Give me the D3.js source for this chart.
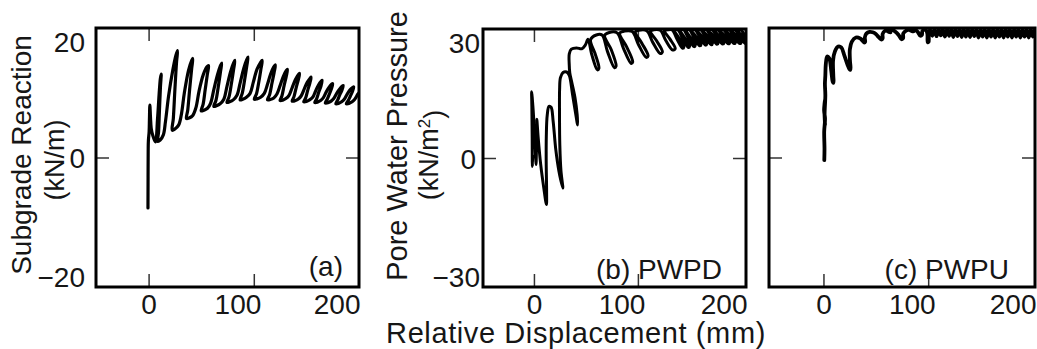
<!DOCTYPE html>
<html>
<head>
<meta charset="utf-8">
<script src="https://cdn.jsdelivr.net/npm/d3@7"></script>
<style>
  body { margin: 0; background: #fff; }
  svg { display: block; }
  text { font-family: "Liberation Sans", Arial, Helvetica, sans-serif; fill: #161616; }
</style>
</head>
<body>
<svg id="chart" width="1037" height="349"></svg>
<script>
// Tick values shared by the three panels
const xTicks = [0, 100, 200];
const yTicksReaction = [-20, 0, 20];
const yTicksPressure = [-30, 0, 30];

// (a) subgrade reaction (kN/m) against relative displacement (mm)
const subgradeReaction = [
  [-0.6,-7.8],[-0.5,-3],[-0.4,1],[-0.2,2.6],[0.5,4],[0.8,6],[1.2,8.1],[1.8,6.2],[2.5,4.5],[4,3.4],[6.5,2.4],
  [8.5,6],[10,9.8],[11.2,12.2],[12,12.9],
  [11.3,11],[10.3,7.2],[9.5,4],[8.8,2.5],[11,2.7],[14,3.5],[16,5.5],
  [19,9.5],[23,13.5],[26,15.8],[27.5,16.5],
  [26.6,14.8],[25,10.5],[23.5,6],[22.5,4.2],[25,4.4],[28.5,5],[31,6.5],
  [34,10],[38,13.5],[41,15],[42,15.3],
  [41,13.8],[39,10.5],[37.2,7.3],[36,6],[38.5,6.1],[42,6.5],[45,7.7],
  [48,10.3],[52,12.8],[55.5,14],[57,14.2],
  [55.8,12.8],[53.8,10.5],[51.8,8.2],[50,7.2],[52.5,7.3],[56,7.6],[59,8.4],
  [62,10.5],[65.5,12.8],[68.3,14.2],[69.5,14.6],
  [68.3,13.2],[66.3,11],[64,8.8],[62,7.9],[64.5,8],[68,8.3],[71.5,9],
  [74.5,11],[78,13.3],[80.8,14.6],[82,15],
  [80.8,13.6],[78.8,11.5],[76.5,9.4],[74.5,8.5],[77,8.6],[80.5,8.9],[84,9.6],
  [87,11.5],[90.5,13.8],[93.3,15.1],[94.5,15.5],
  [93.3,14.1],[91.3,12],[89,9.9],[87,8.9],[89.5,9],[93,9.3],[96.5,9.9],
  [99.5,11.6],[103,13.6],[106.5,14.7],[108,15],
  [106.8,13.7],[104.8,11.7],[102.5,9.8],[100.5,9],[103,9.05],[106.5,9.3],[110,9.9],
  [113,11.3],[116,12.9],[119,14],[120.5,14.3],
  [119.3,13.1],[117.3,11.5],[115,9.7],[113,8.9],[115.5,8.95],[119,9.2],[122,9.8],
  [125,11.1],[128,12.5],[130.8,13.4],[132,13.6],
  [130.8,12.5],[128.8,11.1],[126.7,9.5],[125,8.8],[127.5,8.85],[130.5,9.1],[133.5,9.6],
  [136.5,10.8],[139.5,12],[142.3,12.8],[143.5,13],
  [142.3,12],[140.3,10.8],[138.2,9.4],[136.5,8.7],[139,8.75],[142,9],[145,9.5],
  [148,10.6],[150.8,11.6],[153.4,12.2],[154.5,12.4],
  [153.3,11.5],[151.3,10.4],[149.3,9.2],[147.5,8.6],[150,8.65],[153,8.9],[156,9.3],
  [158.8,10.3],[161.5,11.2],[164,11.75],[165,11.9],
  [163.8,11],[161.8,10.1],[159.8,9.1],[158,8.5],[160.5,8.55],[163.5,8.8],[166,9.2],
  [168.8,10.1],[171.3,10.8],[173.9,11.3],[175,11.4],
  [173.8,10.6],[171.8,9.8],[169.8,9],[168,8.4],[170.5,8.45],[173.5,8.7],[176,9.1],
  [178.8,9.9],[181.3,10.5],[183.9,11],[185,11.1],
  [183.8,10.4],[181.8,9.7],[179.8,8.9],[178,8.3],[180.5,8.35],[183.5,8.6],[186,9],
  [188.8,9.8],[191.3,10.4],[193.9,10.8],[195,10.9],
  [193.8,10.2],[191.8,9.5],[189.8,8.8],[188,8.3],[190.5,8.35],[193.5,8.6],[196,9],
  [199,9.8],[202,10.4]
];

// (b) pore water pressure, downstream side (kN/m2)
const poreWaterPwpd = [
  [-1.2,0.5],[-1.5,-2],[-1.7,5],[-2,12],[-2.2,15.4],[-1,12],[0.5,6],[1.5,1],[2,-1.5],[2.5,3],[3,7.5],[2.8,9],
  [4,5],[6.5,-1.5],[9.5,-7],[12,-10.8],[12.2,-8],[11.8,-1],[11.9,5],[12.8,10],[14.5,12],[16.5,11.8],
  [18.5,8.5],[21,2],[24,-3],[27.8,-7],[26,-3],[24.9,3],[24.6,10],[24.7,16],[25.5,18.7],[28,19.9],
  [31.5,20],[34,19.2],[37,15],[40,10.5],[42,7.7],[41.6,10],[39.5,14],[36.5,17.5],[34.5,19.8],
  [33.9,22],[34,24.2],[36,25.3],[41,25.6],[46,25.4],[49.5,26.3],
  [52,27.6],[55.7,24],[61,20.5],[62.5,20.85],[58.7,24.35],[54.5,27.5],[60,28.6],
  [65.5,28.6],[70.7,24.8],[77.5,21],[79,21.35],[74.5,25.1],[68,28.5],[72.5,29.2],
  [80,29.1],[86,25.55],[93.5,22],[95,22.35],[89.2,25.85],[82.5,29],[87,29.5],
  [94.5,29.4],[100.5,26.4],[108,23.4],[109.8,23.75],[103.8,26.7],[97.5,29.3],[101,29.7],
  [108.5,29.6],[114.2,26.95],[121.5,24.3],[123.6,24.65],[118,27.25],[112,29.5],[115,29.8],
  [121.5,29.7],[126.7,27.4],[133.5,25.1],[135.9,25.45],[130.7,27.7],[125.5,29.6],[128.5,29.8],
  [133,29.8],[137.6,27.65],[143,25.5],[144.2,25.8],[139.3,27.95],[135.3,29.7],
  [138.5,29.8],[143.1,27.75],[148.5,25.7],[149.7,26],[144.8,28.05],[140.8,29.7],
  [144,29.8],[148.6,27.85],[154,25.9],[155.2,26.2],[150.3,28.15],[146.3,29.7],
  [149.5,29.8],[154.1,27.95],[159.5,26.1],[160.7,26.4],[155.8,28.25],[151.8,29.7],
  [155,29.8],[159.6,28.05],[165,26.25],[166.2,26.55],[161.3,28.35],[157.3,29.7],
  [160.5,29.8],[165.1,28.1],[170.5,26.35],[171.7,26.65],[166.8,28.4],[162.8,29.7],
  [166,29.8],[170.6,28.15],[176,26.45],[177.2,26.75],[172.3,28.45],[168.3,29.7],
  [171.5,29.8],[176.1,28.2],[181.5,26.5],[182.7,26.8],[177.8,28.5],[173.8,29.7],
  [177,29.8],[181.6,28.2],[187,26.55],[188.2,26.85],[183.3,28.5],[179.3,29.7],
  [182.5,29.8],[187.1,28.2],[192.5,26.6],[193.7,26.9],[188.8,28.5],[184.8,29.7],
  [188,29.8],[192.6,28.2],[198,26.6],[199.2,26.9],[194.3,28.5],[190.3,29.7],
  [193.5,29.8],[198.1,28.2],[203.5,26.6],[204.7,26.9],[199.8,28.5],[195.8,29.7],
  [199,29.8],[203.6,28.2],[209,26.6]
];

// (c) pore water pressure, upstream side (kN/m2)
const poreWaterPwpu = [
  [0.8,-0.6],[1.0,2],[0.7,6],[1.5,9],[0.6,11],[1.6,13.5],[0.9,12],[1.5,7.5],[1.1,10],[1.8,14.5],
  [1.4,17],[1.8,19],[2.2,21.5],[3.5,23.4],[5.5,23],[7.5,20],[8.8,17.6],[9.6,17.3],[9.4,19],
  [9.2,22.5],[11,24.6],[14,25.7],[17,25.5],[20,23.6],[23,21.5],[24.8,20.5],[25.8,20.3],[25.3,22.5],
  [25.2,25],[27,26.8],[31,27.8],[35,27.6],[37.5,27],[39,26.6],[39.8,26.8],[39.5,27.8],[41,28.7],
  [44,29.1],[47,29],[50,28.6],[53,27.8],[55.5,27.3],[56.5,27.6],[56.5,28.6],[58.5,29.3],[62,29.5],
  [64,29],[61,29.3],[65,29.6],[69,29.1],[72,28.3],[74.5,27.4],[76,27.6],[76.2,28.7],[79,29.4],
  [83,29.6],[86,29.2],[83,29.4],[87,29.7],[90,29.1],[92.5,28.2],[94,28.4],[94.5,29.3],[97.5,29.6],
  [99.2,28.7],[99.6,26.7],[100.4,26.8],[100.6,28.6],[102,29.5],
  [104,28.2],[106,29.7],[108,28.1],[110,29.7],[112,28.3],[114,29.7],[116,28.0],[118,29.7],
  [120,28.2],[122,29.7],[124,27.9],[126,29.7],[128,28.1],[130,29.7],[132,27.9],[134,29.7],
  [136,28.0],[138,29.7],[140,27.9],[142,29.7],[144,28.1],[146,29.7],[148,27.8],[150,29.7],
  [152,28.0],[154,29.7],[156,27.8],[158,29.7],[160,28.0],[162,29.7],[164,27.8],[166,29.7],
  [168,28.0],[170,29.7],[172,27.8],[174,29.7],[176,28.0],[178,29.7],[180,27.8],[182,29.7],
  [184,28.0],[186,29.7],[188,27.8],[190,29.7],[192,28.0],[194,29.7],[196,27.8],[198,29.7],
  [200,28.0],[202,29.7],[204,27.9]
];

// Panel layout
const panels = [
  { id: "a", data: subgradeReaction, xDomain: [-50, 200], yDomain: [-20, 20], yTicks: yTicksReaction,
    left: 96, right: 359, top: 28, bottom: 287, yLabelGap: 11, showYLabels: true,
    tag: "(a)", tagX: 343, tagY: 276, lineWidth: 3.2 },
  { id: "b", data: poreWaterPwpd, xDomain: [-49, 204], yDomain: [-30, 30], yTicks: yTicksPressure,
    left: 483, right: 746, top: 29, bottom: 287, yLabelGap: 3, showYLabels: true,
    tag: "(b) PWPD", tagX: 722, tagY: 279, lineWidth: 3 },
  { id: "c", data: poreWaterPwpu, xDomain: [-52, 202], yDomain: [-30, 30], yTicks: yTicksPressure,
    left: 769, right: 1035, top: 28, bottom: 287, yLabelGap: 3, showYLabels: false,
    tag: "(c) PWPU", tagX: 1009, tagY: 279, lineWidth: 3.8 }
];

const svg = d3.select("#chart");
const tickLen = 13;

panels.forEach(p => {
  const x = d3.scaleLinear().domain(p.xDomain).range([p.left, p.right]);
  const y = d3.scaleLinear().domain(p.yDomain).range([p.bottom, p.top]);
  const g = svg.append("g").attr("class", "panel-" + p.id);

  g.append("clipPath").attr("id", "clip-" + p.id)
    .append("rect")
    .attr("x", p.left).attr("y", p.top)
    .attr("width", p.right - p.left).attr("height", p.bottom - p.top);

  // inward tick marks on all four sides
  const innerTicks = [
    { axis: d3.axisBottom(x).tickValues([0, 100]), tr: `translate(0,${p.bottom})` },
    { axis: d3.axisTop(x).tickValues([0, 100]), tr: `translate(0,${p.top})` },
    { axis: d3.axisLeft(y).tickValues([0]), tr: `translate(${p.left},0)` },
    { axis: d3.axisRight(y).tickValues([0]), tr: `translate(${p.right},0)` }
  ];
  innerTicks.forEach(t => {
    const ag = g.append("g").attr("transform", t.tr)
      .call(t.axis.tickSize(-tickLen).tickFormat(""));
    ag.select(".domain").remove();
    ag.selectAll(".tick line").attr("stroke", "#333").attr("stroke-width", 1.5);
  });

  // x tick labels
  const xl = g.append("g").attr("transform", `translate(0,${p.bottom})`)
    .call(d3.axisBottom(x).tickValues(xTicks).tickSize(0).tickPadding(7));
  xl.select(".domain").remove();
  xl.selectAll(".tick text")
    .attr("font-size", 28)
    .attr("font-family", null)
    .attr("text-anchor", d => d === 0 ? "middle" : "end")
    .attr("dx", d => d === 100 ? 7 : d === 200 ? (p.right - x(200)) + 1 : 0);

  // y tick labels
  if (p.showYLabels) {
    const [ymin, ymax] = p.yDomain;
    const yl = g.append("g").attr("transform", `translate(${p.left},0)`)
      .call(d3.axisLeft(y).tickValues(p.yTicks).tickSize(0).tickPadding(p.yLabelGap));
    yl.select(".domain").remove();
    yl.selectAll(".tick text")
      .attr("font-size", 28)
      .attr("font-family", null)
      .attr("dy", d => d === ymax ? 23 : d === ymin ? -1 : 10)
      .attr("dx", d => (d === 0 && p.id === "b") ? -4 : 0);
  }

  // data curve
  const line = d3.line()
    .x(d => x(d[0]))
    .y(d => y(d[1]))
    .curve(d3.curveCatmullRom.alpha(0.5));
  g.append("path")
    .datum(p.data)
    .attr("clip-path", `url(#clip-${p.id})`)
    .attr("fill", "none")
    .attr("stroke", "#000")
    .attr("stroke-width", p.lineWidth)
    .attr("stroke-linejoin", "round")
    .attr("stroke-linecap", "round")
    .attr("d", line);

  // frame
  g.append("rect")
    .attr("x", p.left).attr("y", p.top)
    .attr("width", p.right - p.left).attr("height", p.bottom - p.top)
    .attr("fill", "none").attr("stroke", "#000").attr("stroke-width", 3);

  // panel tag
  g.append("text")
    .attr("x", p.tagX).attr("y", p.tagY)
    .attr("text-anchor", "end")
    .attr("font-size", 28)
    .text(p.tag);
});

// axis titles
svg.append("text")
  .attr("transform", "translate(31,155) rotate(-90)")
  .attr("text-anchor", "middle").attr("font-size", 28)
  .text("Subgrade Reaction");
svg.append("text")
  .attr("transform", "translate(64,160) rotate(-90)")
  .attr("text-anchor", "middle").attr("font-size", 27)
  .text("(kN/m)");

svg.append("text")
  .attr("transform", "translate(407,146) rotate(-90)")
  .attr("text-anchor", "middle").attr("font-size", 29)
  .text("Pore Water Pressure");
const unitB = svg.append("text")
  .attr("transform", "translate(438,155) rotate(-90)")
  .attr("text-anchor", "middle").attr("font-size", 27);
unitB.append("tspan").text("(kN/m");
unitB.append("tspan").attr("dy", "-0.45em").attr("font-size", 17).text("2");
unitB.append("tspan").attr("dy", "0.45em").text(")");

svg.append("text")
  .attr("x", 576).attr("y", 343)
  .attr("text-anchor", "middle").attr("font-size", 29)
  .attr("letter-spacing", 0.6)
  .text("Relative Displacement (mm)");
</script>
</body>
</html>
